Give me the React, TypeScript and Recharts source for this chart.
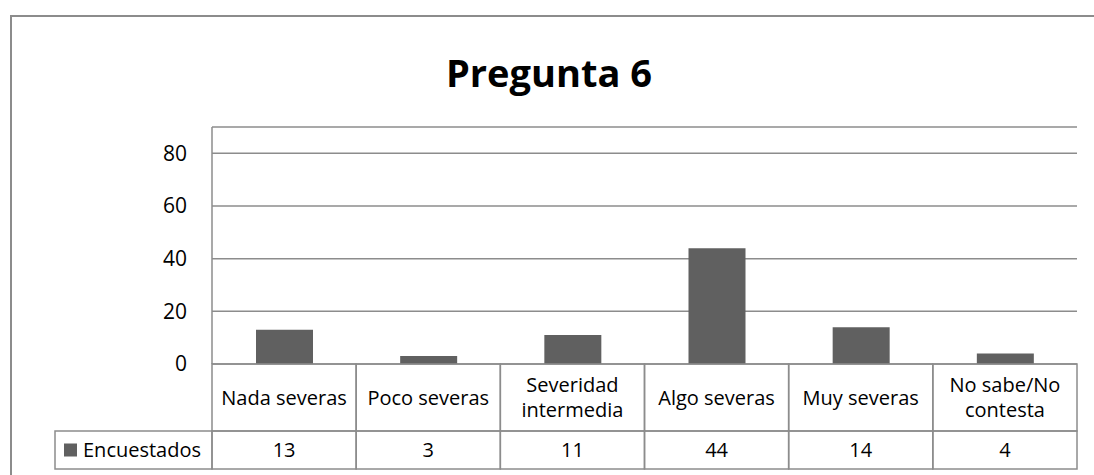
import React from 'react';
import { BarChart, Bar, XAxis, YAxis, CartesianGrid } from 'recharts';

// Pregunta 6 - respuestas de los encuestados
const categories = [
  'Nada severas',
  'Poco severas',
  'Severidad intermedia',
  'Algo severas',
  'Muy severas',
  'No sabe/No contesta',
];
const encuestados = [13, 3, 11, 44, 14, 4];
const yTicks = [0, 20, 40, 60, 80];
const seriesName = 'Encuestados';
const title = 'Pregunta 6';

const data = categories.map((c, i) => ({ categoria: c, [seriesName]: encuestados[i] }));

const W = 1094;
const H = 475;
const PLOT_LEFT = 212;
const PLOT_RIGHT = 1077;
const CELL_W = (PLOT_RIGHT - PLOT_LEFT) / categories.length;
const ROW1_H = 67;
const ROW2_H = 38;
const LEGEND_LEFT = 55;
const BORDER = '#8c8c8c';
const BAR_COLOR = '#606060';
const FONT = '"Open Sans", sans-serif';
const FONT_SIZE = 20;

// greedy word wrap by character count
function wrap(text: string, maxChars = 13): string[] {
  const words = text.split(' ');
  const lines: string[] = [];
  let cur = '';
  words.forEach(w => {
    const next = cur ? cur + ' ' + w : w;
    if (next.length > maxChars && cur) {
      lines.push(cur);
      cur = w;
    } else {
      cur = next;
    }
  });
  if (cur) lines.push(cur);
  return lines;
}

const TableTick = (props: any) => {
  const { x, y, payload, index } = props;
  const left = x - CELL_W / 2;
  const lines = wrap(String(payload.value));
  const midY = y + ROW1_H / 2;
  const lh = 25;
  return (
    <g>
      <rect x={left} y={y} width={CELL_W} height={ROW1_H} fill="none" stroke={BORDER} strokeWidth={1.5} />
      <text textAnchor="middle" fontFamily={FONT} fontSize={FONT_SIZE} fill="#000">
        {lines.map((l, i) => (
          <tspan key={i} x={x} y={midY + (i - (lines.length - 1) / 2) * lh} dy="0.35em">{l}</tspan>
        ))}
      </text>
      <rect x={left} y={y + ROW1_H} width={CELL_W} height={ROW2_H} fill="none" stroke={BORDER} strokeWidth={1.5} />
      <text x={x} y={y + ROW1_H + ROW2_H / 2} dy="0.35em" textAnchor="middle" fontFamily={FONT} fontSize={FONT_SIZE} fill="#000">
        {encuestados[index]}
      </text>
      {index === 0 && (
        <g>
          <rect x={LEGEND_LEFT} y={y + ROW1_H} width={left - LEGEND_LEFT} height={ROW2_H} fill="none" stroke={BORDER} strokeWidth={1.5} />
          <rect x={LEGEND_LEFT + 9} y={y + ROW1_H + ROW2_H / 2 - 6.5} width={13} height={13} fill={BAR_COLOR} />
          <text x={LEGEND_LEFT + 28} y={y + ROW1_H + ROW2_H / 2} dy="0.35em" fontFamily={FONT} fontSize={FONT_SIZE} fill="#000">
            {seriesName}
          </text>
        </g>
      )}
    </g>
  );
};

export default function App() {
  return (
    <div style={{ position: 'absolute', left: 0, top: 0, width: W, height: H, background: '#fff', overflow: 'hidden' }}>
      <div style={{ position: 'absolute', left: 10, top: 15, width: W, height: H, borderLeft: `2px solid ${BORDER}`, borderTop: `2px solid ${BORDER}` }} />
      <div style={{ position: 'absolute', left: 0, top: 46, width: 1098, textAlign: 'center', fontFamily: FONT, fontWeight: 700, fontSize: 38, lineHeight: '52px', color: '#000' }}>
        {title}
      </div>
      <div style={{ position: 'absolute', left: 0, top: 0 }}>
        <BarChart width={W} height={H} data={data} margin={{ top: 127, right: W - PLOT_RIGHT, left: 0, bottom: 6 }}>
          <CartesianGrid vertical={false} stroke={BORDER} strokeWidth={1.5} />
          <XAxis
            dataKey="categoria"
            height={105}
            interval={0}
            tickLine={false}
            axisLine={false}
            tickSize={0}
            tickMargin={0}
            tick={<TableTick />}
          />
          <YAxis
            width={PLOT_LEFT}
            domain={[0, 90]}
            ticks={yTicks}
            tickLine={false}
            tickSize={0}
            tickMargin={25}
            axisLine={{ stroke: BORDER, strokeWidth: 1.5 }}
            tick={{ fontFamily: FONT, fontSize: 21, fill: '#000' }}
          />
          <Bar dataKey={seriesName} fill={BAR_COLOR} barSize={57} isAnimationActive={false} />
        </BarChart>
      </div>
    </div>
  );
}
